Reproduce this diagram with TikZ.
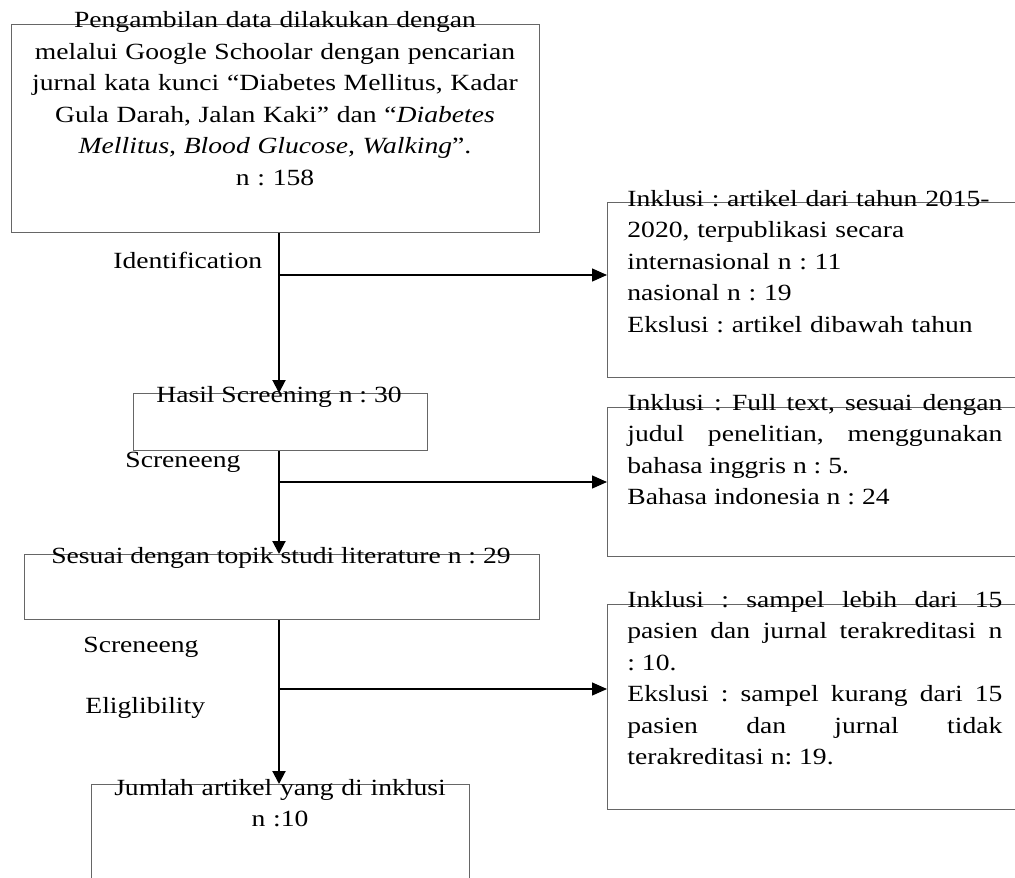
\documentclass[tikz,border=0pt]{standalone}
\usepackage{fontspec}
\setmainfont{Liberation Serif}[FakeStretch=1.19]
\usetikzlibrary{arrows.meta}
\frenchspacing

\tikzset{
  box/.style={draw=black!60, line width=0.6pt, inner sep=0pt, anchor=north west},
  txt/.style={font=\fontsize{11.6}{15.75}\selectfont, inner sep=0pt},
  sidetxt/.style={txt, text width=187.5pt, anchor=base west},
  flow/.style={-{Triangle[length=6.5pt,width=6.5pt]}, line width=1pt},
  branch/.style={-{Triangle[length=7.5pt,width=6.5pt]}, line width=0.65pt},
}

\begin{document}
\begin{tikzpicture}[x=0.5pt, y=-0.5pt]
  \useasboundingbox (0,0) rectangle (1015,877);
  \clip (0,0) rectangle (1015,877);

  % main column
  \node[box, minimum width=264pt, minimum height=104pt] (search) at (11,24) {};
  \node[box, minimum width=147pt, minimum height=28.5pt] (screen) at (133,393) {};
  \node[box, minimum width=257.5pt, minimum height=32.5pt] (topic) at (24,554) {};
  \node[box, minimum width=189pt, minimum height=58pt] (final) at (91,784) {};

  % side column
  \node[box, minimum width=209pt, minimum height=87.5pt] (incl1) at (607,202) {};
  \node[box, minimum width=209pt, minimum height=74.5pt] (incl2) at (607,407) {};
  \node[box, minimum width=209pt, minimum height=102.5pt] (incl3) at (607,604) {};

  \node[txt, text width=264pt, align=center, anchor=base] (searchtxt) at (275,28)
    {Pengambilan data dilakukan dengan\\
     melalui Google Schoolar dengan pencarian\\
     jurnal kata kunci “Diabetes Mellitus, Kadar\\
     Gula Darah, Jalan Kaki” dan “\textit{Diabetes}\\
     \textit{Mellitus, Blood Glucose, Walking}”.\\
     n : 158};
  \node[txt, anchor=base] (screentxt) at (279,402) {Hasil Screening n : 30};
  \node[txt, anchor=base] (topictxt) at (281,563) {Sesuai dengan topik studi literature n : 29};
  \node[txt, text width=189pt, align=center, anchor=base] (finaltxt) at (280,795)
    {Jumlah artikel yang di inklusi\\ n :10};

  \node[sidetxt, align=left] (incl1txt) at (627,206)
    {Inklusi : artikel dari tahun 2015-\\
     2020, terpublikasi secara\\
     internasional n : 11\\
     nasional n : 19\\
     Ekslusi : artikel dibawah tahun};
  \node[sidetxt, align=justify] (incl2txt) at (627,410)
    {Inklusi : Full text, sesuai dengan\linebreak
     judul penelitian, menggunakan\linebreak
     bahasa inggris n : 5.\par
     Bahasa indonesia n : 24};
  \node[sidetxt, align=justify] (incl3txt) at (627,607)
    {Inklusi : sampel lebih dari 15\linebreak
     pasien dan jurnal terakreditasi n\linebreak
     : 10.\par
     Ekslusi : sampel kurang dari 15\linebreak
     pasien dan jurnal tidak\linebreak
     terakreditasi n: 19.};

  % stage labels
  \node[txt, anchor=base west] (ident) at (113,268) {Identification};
  \node[txt, anchor=base west] (scr1) at (125,467) {Screneeng};
  \node[txt, anchor=base west] (scr2) at (83,652) {Screneeng};
  \node[txt, anchor=base west] (elig) at (85,713) {Eliglibility};

  % connectors
  \coordinate (spine) at (279,0);
  \coordinate (br1) at (279,275);
  \coordinate (br2) at (279,482);
  \coordinate (br3) at (279,689);
  \draw[flow] (search.south -| spine) -- (screen.north -| spine);
  \draw[flow] (screen.south -| spine) -- (topic.north -| spine);
  \draw[flow] (topic.south -| spine) -- (final.north -| spine);
  \draw[branch] (br1) -- (br1 -| incl1.west);
  \draw[branch] (br2) -- (br2 -| incl2.west);
  \draw[branch] (br3) -- (br3 -| incl3.west);
\end{tikzpicture}
\end{document}
